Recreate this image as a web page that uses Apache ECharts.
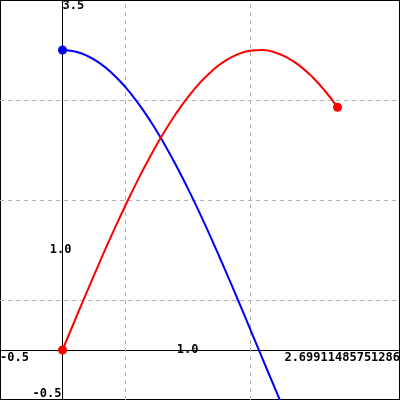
<!DOCTYPE html>
<html>
<head>
<meta charset="utf-8">
<script src="https://cdn.jsdelivr.net/npm/echarts@6/dist/echarts.min.js"></script>
<style>html,body{margin:0;padding:0;background:#fff}#c{width:400px;height:400px}</style>
</head>
<body>
<div id="c"></div>
<script>
// ---- data ----
const xMin = -0.5;
const xMax = 2.69911485751286;
const yMin = -0.5;
const yMax = 3.5;
const xValues = [0, 0.1, 0.2, 0.3, 0.4, 0.5, 0.6, 0.7, 0.8, 0.9, 1.0, 1.1, 1.2, 1.3, 1.4, 1.5, 1.6, 1.7, 1.8, 1.9, 2.0, 2.1, 2.1991];
const blueValues = [3.000, 2.985, 2.940, 2.866, 2.763, 2.633, 2.476, 2.295, 2.090, 1.865, 1.621, 1.361, 1.087, 0.802, 0.510, 0.212, -0.088, -0.387, -0.682, -0.970, -1.248, -1.514, -1.763];
const redValues = [0.000, 0.300, 0.596, 0.887, 1.168, 1.438, 1.694, 1.933, 2.152, 2.350, 2.524, 2.674, 2.796, 2.891, 2.956, 2.992, 2.999, 2.975, 2.922, 2.839, 2.728, 2.590, 2.427];
const gridX = [0.5, 1.5];
const gridY = [0.5, 1.5, 2.5];
const xLabelMin = '-0.5';
const xLabelMid = '1.0';
const xLabelMidValue = 1;
const xLabelMax = '2.69911485751286';
const yLabelMax = '3.5';
const yLabelMid = '1.0';
const yLabelMidValue = 1;
const yLabelMin = '-0.5';
const axisCross = [0, 0];

const font = { fontFamily: 'DejaVu Sans Mono', fontWeight: 'bold', fontSize: 12, color: '#000' };
const plainLine = (color) => ({ show: true, onZero: false, lineStyle: { color: color, width: 1 } });

const baseX = { type: 'value', min: xMin, max: xMax, interval: 0.5, position: 'bottom',
  axisTick: { show: false }, splitLine: { show: false } };
const baseY = { type: 'value', min: yMin, max: yMax, interval: 0.5, position: 'left',
  axisTick: { show: false }, splitLine: { show: false } };

function pts(vals) { return xValues.map((x, i) => [x, vals[i]]); }
const last = xValues.length - 1;
const endSymbol = (v, p) => (p.dataIndex === 0 || p.dataIndex === last) ? 9 : 0;

const chart = echarts.init(document.getElementById('c'), null, { renderer: 'canvas' });
chart.setOption({
  animation: false,
  grid: { left: 0, right: 0, top: 0, bottom: 0, containLabel: false, outerBoundsMode: 'none',
    show: true, borderColor: '#000', borderWidth: 2, backgroundColor: '#fff' },
  xAxis: [
    Object.assign({}, baseX, {
      axisLine: plainLine('#000'),
      axisLabel: Object.assign({}, font, { margin: 2, verticalAlign: 'top', showMinLabel: true, showMaxLabel: true,
        alignMinLabel: 'left', alignMaxLabel: 'right',
        formatter: v => v === xMin ? xLabelMin : (v === xMax ? xLabelMax : '') })
    }),
    Object.assign({}, baseX, {
      axisLine: plainLine('rgba(0,0,0,0)'),
      axisLabel: Object.assign({}, font, { margin: 0, verticalAlign: 'middle', showMinLabel: true, showMaxLabel: true,
        formatter: v => Math.abs(v - xLabelMidValue) < 1e-9 ? xLabelMid : '' })
    })
  ],
  yAxis: [
    Object.assign({}, baseY, {
      axisLine: plainLine('#000'),
      axisLabel: Object.assign({}, font, { inside: true, margin: 0, align: 'left', showMinLabel: true, showMaxLabel: true,
        verticalAlignMaxLabel: 'top',
        formatter: v => v === yMax ? yLabelMax : '' })
    }),
    Object.assign({}, baseY, {
      axisLine: plainLine('rgba(0,0,0,0)'),
      axisLabel: Object.assign({}, font, { margin: 1, align: 'right', showMinLabel: true, showMaxLabel: true,
        verticalAlignMinLabel: 'bottom',
        formatter: v => v === yMin ? yLabelMin : '' })
    }),
    Object.assign({}, baseY, {
      axisLine: plainLine('rgba(0,0,0,0)'),
      axisLabel: Object.assign({}, font, { margin: 2, align: 'center', verticalAlign: 'middle', showMinLabel: true, showMaxLabel: true,
        formatter: v => Math.abs(v - yLabelMidValue) < 1e-9 ? yLabelMid : '' })
    })
  ],
  series: [
    {
      type: 'line', data: [], z: 1, silent: true,
      markLine: {
        silent: true, z: 1, symbol: ['none', 'none'], label: { show: false },
        lineStyle: { type: [4, 4], color: '#b4b4b4', width: 1 },
        emphasis: { disabled: true },
        data: gridX.map(v => ({ xAxis: v })).concat(gridY.map(v => ({ yAxis: v })))
      }
    },
    {
      type: 'line', data: pts(blueValues), smooth: true, z: 3,
      lineStyle: { color: '#0000ff', width: 2 }, itemStyle: { color: '#0000ff' },
      symbol: 'circle', symbolSize: endSymbol, showAllSymbol: true, clip: true
    },
    {
      type: 'line', data: pts(redValues), smooth: true, z: 3,
      lineStyle: { color: '#ff0000', width: 2 }, itemStyle: { color: '#ff0000' },
      symbol: 'circle', symbolSize: endSymbol, showAllSymbol: true, clip: true
    }
  ]
});

// Move the axes so that they cross at the data origin (positions come from the library's scales)
const origin = chart.convertToPixel({ gridIndex: 0 }, axisCross);
const rect = chart.getModel().getComponent('grid', 0).coordinateSystem.getRect();
const xOff = origin[1] - (rect.y + rect.height);
const yOff = rect.x - origin[0];
chart.setOption({
  xAxis: [{ offset: xOff }, { offset: xOff }],
  yAxis: [{ offset: yOff }, { offset: yOff }, { offset: yOff }]
});
</script>
</body>
</html>
